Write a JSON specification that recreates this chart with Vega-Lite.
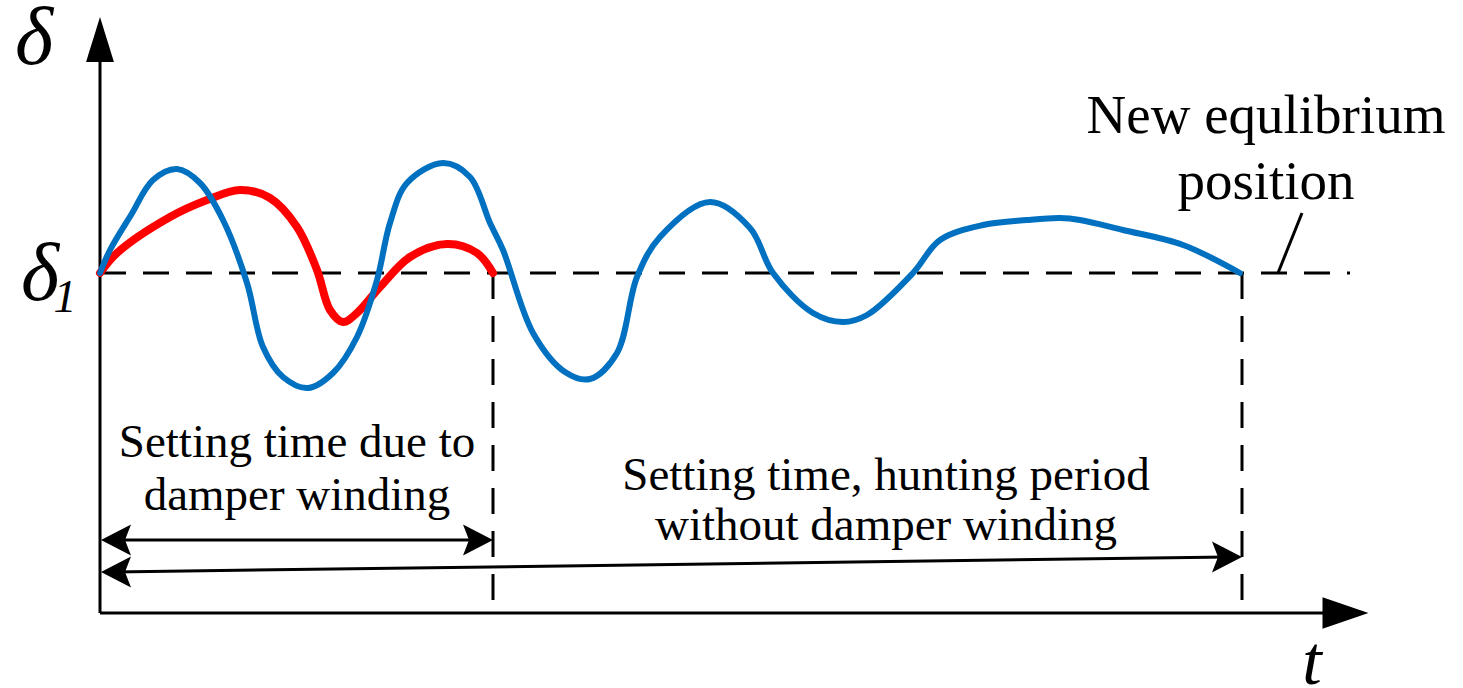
{
  "$schema": "https://vega.github.io/schema/vega-lite/v6.json",
  "width": 1463,
  "height": 688,
  "autosize": {"type": "none"},
  "padding": 0,
  "background": "white",
  "config": {"view": {"stroke": null}},
  "datasets": {
    "red": [
      {"t": 0, "d": 340}, {"t": 17, "d": 360}, {"t": 70, "d": 396}, {"t": 107, "d": 413},
      {"t": 140, "d": 423}, {"t": 170, "d": 415}, {"t": 197, "d": 386}, {"t": 217, "d": 343},
      {"t": 230, "d": 303}, {"t": 243, "d": 291}, {"t": 257, "d": 300}, {"t": 280, "d": 326},
      {"t": 310, "d": 356}, {"t": 347, "d": 369}, {"t": 377, "d": 360}, {"t": 393, "d": 340}
    ],
    "blue": [
      {"t": 0, "d": 340}, {"t": 10, "d": 363}, {"t": 31, "d": 398}, {"t": 53, "d": 433},
      {"t": 77, "d": 444}, {"t": 100, "d": 430}, {"t": 123, "d": 393}, {"t": 147, "d": 330},
      {"t": 163, "d": 266}, {"t": 183, "d": 236}, {"t": 208, "d": 225}, {"t": 233, "d": 240},
      {"t": 257, "d": 276}, {"t": 277, "d": 333}, {"t": 290, "d": 390}, {"t": 307, "d": 430},
      {"t": 343, "d": 450}, {"t": 370, "d": 436}, {"t": 390, "d": 390}, {"t": 403, "d": 363},
      {"t": 433, "d": 280}, {"t": 465, "d": 241}, {"t": 490, "d": 234}, {"t": 517, "d": 260},
      {"t": 537, "d": 336}, {"t": 560, "d": 376}, {"t": 610, "d": 411}, {"t": 650, "d": 385},
      {"t": 673, "d": 340}, {"t": 713, "d": 300}, {"t": 743, "d": 291}, {"t": 767, "d": 298},
      {"t": 813, "d": 340}, {"t": 840, "d": 373}, {"t": 883, "d": 388}, {"t": 927, "d": 393},
      {"t": 960, "d": 395}, {"t": 980, "d": 393}, {"t": 1023, "d": 383}, {"t": 1083, "d": 368},
      {"t": 1140, "d": 340}
    ],
    "solid": [
      {"t": 0, "d": 0, "t2": 0, "d2": 560},
      {"t": 0, "d": 0, "t2": 1228, "d2": 0},
      {"t": 14, "d": 73, "t2": 380, "d2": 73},
      {"t": 14, "d": 41, "t2": 1128, "d2": 56},
      {"t": 1178, "d": 340, "t2": 1202, "d2": 400}
    ],
    "dashed": [
      {"t": 0, "d": 340, "t2": 1250, "d2": 340},
      {"t": 393, "d": 340, "t2": 393, "d2": 8},
      {"t": 1142, "d": 340, "t2": 1142, "d2": 8}
    ],
    "upHead": [{"t": 0, "d": 573.5}],
    "rightHead": [{"t": 1245.5, "d": 0}],
    "dimRight": [{"t": 378, "d": 73}, {"t": 1127, "d": 56}],
    "dimLeft": [{"t": 16, "d": 73}, {"t": 16, "d": 41}],
    "labels": [
      {"t": 197, "d": 156, "text": "Setting time due to"},
      {"t": 197, "d": 103, "text": "damper winding"},
      {"t": 786, "d": 123, "text": "Setting time, hunting period"},
      {"t": 786, "d": 73, "text": "without damper winding"}
    ],
    "note": [
      {"t": 1166, "d": 480, "text": "New equlibrium"},
      {"t": 1166, "d": 414, "text": "position"}
    ],
    "bigSymbols": [
      {"t": -66, "d": 549, "text": "δ"},
      {"t": -60, "d": 313, "text": "δ"}
    ],
    "tLabel": [{"t": 1212, "d": -71, "text": "t"}],
    "subs": [{"t": -35, "d": 301, "text": "1"}]
  },
  "encoding": {
    "x": {"field": "t", "type": "quantitative", "scale": {"domain": [-100, 1363], "nice": false, "zero": false}, "axis": null},
    "y": {"field": "d", "type": "quantitative", "scale": {"domain": [-75, 613], "nice": false, "zero": false}, "axis": null}
  },
  "layer": [
    {
      "data": {"name": "dashed"},
      "mark": {"type": "rule", "color": "black", "strokeWidth": 3, "strokeDash": [26, 17]},
      "encoding": {"x2": {"field": "t2"}, "y2": {"field": "d2"}}
    },
    {
      "data": {"name": "solid"},
      "mark": {"type": "rule", "color": "black", "strokeWidth": 3},
      "encoding": {"x2": {"field": "t2"}, "y2": {"field": "d2"}}
    },
    {
      "data": {"name": "red"},
      "mark": {"type": "line", "color": "#FF0000", "strokeWidth": 8, "interpolate": "catmull-rom", "strokeCap": "round", "strokeJoin": "round"},
      "encoding": {"order": {"field": "t"}}
    },
    {
      "data": {"name": "blue"},
      "mark": {"type": "line", "color": "#0070C0", "strokeWidth": 6, "interpolate": "catmull-rom", "strokeCap": "round", "strokeJoin": "round"},
      "encoding": {"order": {"field": "t"}}
    },
    {
      "data": {"name": "upHead"},
      "mark": {"type": "point", "shape": "M0,-1L0.62,1L-0.62,1Z", "size": 2025, "filled": true, "color": "black", "opacity": 1, "strokeWidth": 0}
    },
    {
      "data": {"name": "rightHead"},
      "mark": {"type": "point", "shape": "M1,0L-1,-0.68L-1,0.68Z", "size": 2116, "filled": true, "color": "black", "opacity": 1, "strokeWidth": 0}
    },
    {
      "data": {"name": "dimRight"},
      "mark": {"type": "point", "shape": "M1,0L-1,-1.03L-0.6,0L-1,1.03Z", "size": 900, "filled": true, "color": "black", "opacity": 1, "strokeWidth": 0}
    },
    {
      "data": {"name": "dimLeft"},
      "mark": {"type": "point", "shape": "M-1,0L1,-1.03L0.6,0L1,1.03Z", "size": 900, "filled": true, "color": "black", "opacity": 1, "strokeWidth": 0}
    },
    {
      "data": {"name": "labels"},
      "mark": {"type": "text", "font": "Liberation Serif", "fontSize": 47, "align": "center", "baseline": "alphabetic", "color": "black"},
      "encoding": {"text": {"field": "text"}}
    },
    {
      "data": {"name": "note"},
      "mark": {"type": "text", "font": "Liberation Serif", "fontSize": 55, "align": "center", "baseline": "alphabetic", "color": "black"},
      "encoding": {"text": {"field": "text"}}
    },
    {
      "data": {"name": "bigSymbols"},
      "mark": {"type": "text", "font": "Liberation Serif", "fontStyle": "italic", "fontSize": 82, "align": "center", "baseline": "alphabetic", "color": "black"},
      "encoding": {"text": {"field": "text"}}
    },
    {
      "data": {"name": "tLabel"},
      "mark": {"type": "text", "font": "Liberation Serif", "fontStyle": "italic", "fontSize": 70, "align": "center", "baseline": "alphabetic", "color": "black"},
      "encoding": {"text": {"field": "text"}}
    },
    {
      "data": {"name": "subs"},
      "mark": {"type": "text", "font": "Liberation Serif", "fontStyle": "italic", "fontSize": 46, "align": "center", "baseline": "alphabetic", "color": "black"},
      "encoding": {"text": {"field": "text"}}
    }
  ]
}
